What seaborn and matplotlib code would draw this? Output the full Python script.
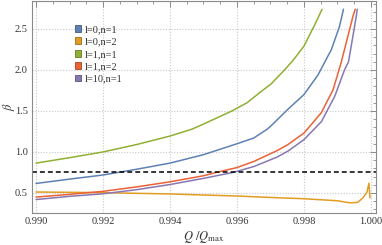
import numpy as np
import pandas as pd
import matplotlib
matplotlib.use("Agg")
import matplotlib.pyplot as plt
from matplotlib.patches import Patch
from matplotlib.colors import to_rgb
from matplotlib.ticker import MultipleLocator
import seaborn as sns

# valores (Q/Qmax, beta)
x_l0n1 = [0.9900, 0.9910, 0.9920, 0.9930, 0.9940, 0.9950, 0.9960, 0.9965, 0.9969, 0.99702, 0.99752, 0.9980, 0.99842, 0.99882, 0.99906, 0.99918]
b_l0n1 = [0.616, 0.669, 0.719, 0.789, 0.864, 0.967, 1.10, 1.17, 1.277, 1.32, 1.52, 1.70, 1.94, 2.25, 2.53, 2.74]

x_l0n2 = [0.9900, 0.9920, 0.9940, 0.9960, 0.9972, 0.9980, 0.9990, 0.99937, 0.9996, 0.99976, 0.99988, 0.99994, 0.99997]
b_l0n2 = [0.512, 0.504, 0.488, 0.463, 0.442, 0.43, 0.405, 0.38, 0.385, 0.44, 0.51, 0.62, 0.44]

x_l1n1 = [0.9900, 0.9910, 0.9920, 0.9930, 0.9940, 0.99465, 0.9950, 0.99585, 0.9963, 0.9967, 0.99702, 0.99742, 0.9977, 0.9980, 0.99832, 0.99854]
b_l1n1 = [0.864, 0.93, 1.00, 1.09, 1.194, 1.277, 1.34, 1.50, 1.60, 1.73, 1.83, 2.00, 2.13, 2.29, 2.55, 2.74]

x_l1n2 = [0.9900, 0.9910, 0.9920, 0.9930, 0.9940, 0.9950, 0.9954, 0.9960, 0.9965, 0.9972, 0.99752, 0.9980, 0.99852, 0.99887, 0.99911, 0.99931, 0.99946, 0.99953]
b_l1n2 = [0.45, 0.483, 0.52, 0.574, 0.636, 0.71, 0.752, 0.81, 0.884, 1.017, 1.09, 1.23, 1.48, 1.76, 2.09, 2.41, 2.65, 2.74]

x_l10n1 = [0.9900, 0.9910, 0.9920, 0.9930, 0.9940, 0.9950, 0.9959, 0.9965, 0.9972, 0.99752, 0.9980, 0.99852, 0.99892, 0.99921, 0.99933, 0.99946, 0.99956, 0.99959]
b_l10n1 = [0.42, 0.459, 0.49, 0.54, 0.603, 0.678, 0.752, 0.822, 0.938, 1.01, 1.15, 1.37, 1.68, 2.00, 2.10, 2.41, 2.65, 2.74]

beta_ref = 0.75

labels = ["l=0,n=1", "l=0,n=2", "l=1,n=1", "l=1,n=2", "l=10,n=1"]
cores = ["#5E81B5", "#E19C24", "#8FB032", "#EB6235", "#8778B3"]

curvas = [(x_l0n1, b_l0n1), (x_l0n2, b_l0n2), (x_l1n1, b_l1n1), (x_l1n2, b_l1n2), (x_l10n1, b_l10n1)]
partes = []
for lab, (xs, bs) in zip(labels, curvas):
    partes.append(pd.DataFrame({"Q": xs, "beta": bs, "caso": lab}))
df = pd.concat(partes, ignore_index=True)

sns.set_style("white")
plt.rcParams["font.family"] = ["Liberation Serif", "DejaVu Serif"]
plt.rcParams["mathtext.fontset"] = "stix"

fig = plt.figure(figsize=(3.82, 2.45), dpi=100)
ax = fig.add_axes([32/382, 1 - 213/245, 344/382, 212/245])

sns.lineplot(data=df, x="Q", y="beta", hue="caso", palette=dict(zip(labels, cores)),
             sort=False, estimator=None, units="caso", linewidth=1.1, legend=False, ax=ax)
for ln in ax.get_lines():
    ln.set_solid_joinstyle("round")
ax.axhline(beta_ref, color="black", linewidth=1.1, linestyle=(0, (3.2, 2)))

ax.set_xlim(0.98988, 1.00015)
ax.set_ylim(0.256, 2.84)
ax.xaxis.set_minor_locator(MultipleLocator(0.0005))
ax.yaxis.set_minor_locator(MultipleLocator(0.1))
ax.set_xticks([0.990, 0.992, 0.994, 0.996, 0.998, 1.000])
ax.set_xticklabels(["0.990", "0.992", "0.994", "0.996", "0.998", "1.000"])
ax.set_yticks([0.5, 1.0, 1.5, 2.0, 2.5])
ax.set_yticklabels(["0.5", "1.0", "1.5", "2.0", "2.5"])

ax.grid(True, which="major", color="#c8c8c8", linestyle=(0, (1, 1.5)), linewidth=0.8)
ax.tick_params(which="both", direction="in", top=True, right=True, colors="#8a8a8a",
               labelcolor="#333333", labelsize=7.5, pad=3)
ax.tick_params(which="major", length=4, width=0.7)
ax.tick_params(which="minor", length=2, width=0.6)
for s in ax.spines.values():
    s.set_color("#8a8a8a")
    s.set_linewidth(0.8)

ax.set_xlabel(r"$Q\ /Q_{\mathrm{max}}$", fontsize=9, color="#333333", labelpad=2)
ax.set_ylabel(r"$\beta$", fontsize=9, color="#333333")
ax.yaxis.set_label_coords(-0.045, 0.5)

handles = [Patch(facecolor=c, edgecolor=tuple(np.array(to_rgb(c)) * 0.7), linewidth=0.6, label=l)
           for c, l in zip(cores, labels)]
leg = ax.legend(handles=handles, loc="upper left", bbox_to_anchor=(75/382, 1 - 25/245),
                bbox_transform=fig.transFigure, frameon=False, fontsize=7.5,
                handlelength=0.6, handleheight=0.6, handletextpad=0.35, labelspacing=0.33,
                borderaxespad=0, borderpad=0)
for t in leg.get_texts():
    t.set_color("#333333")

fig.savefig("out.png", dpi=100)
